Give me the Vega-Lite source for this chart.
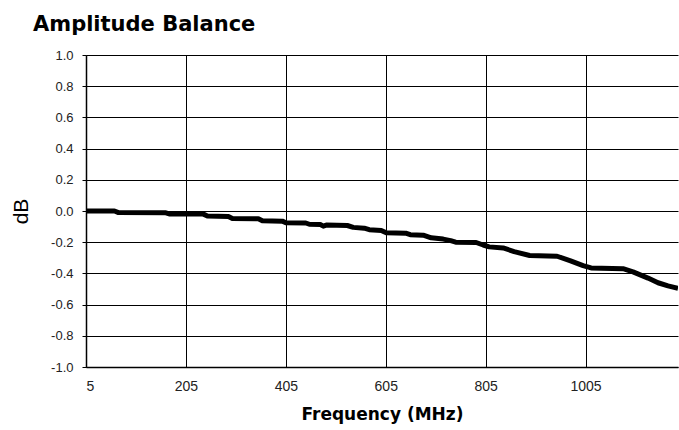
{
  "$schema": "https://vega.github.io/schema/vega-lite/v6.json",
  "width": 592,
  "height": 312,
  "autosize": {"type": "none"},
  "padding": {"left": 86, "top": 55, "right": 1, "bottom": 63},
  "background": "white",
  "title": {
    "text": "Amplitude Balance",
    "anchor": "start",
    "frame": "group",
    "dx": -53,
    "dy": 29,
    "offset": 26,
    "baseline": "alphabetic",
    "font": "DejaVu Sans",
    "fontSize": 21,
    "fontWeight": "bold",
    "color": "#000000"
  },
  "config": {
    "view": {"stroke": null},
    "axis": {
      "labelFont": "Liberation Sans",
      "titleFont": "Liberation Sans",
      "labelColor": "#222222",
      "titleColor": "#000000",
      "gridColor": "#000000",
      "gridOpacity": 1,
      "gridWidth": 1,
      "domainColor": "#000000",
      "domainWidth": 1.5,
      "tickColor": "#000000"
    }
  },
  "data": {
    "values": [
      {"freq": 5, "db": 0.0},
      {"freq": 62, "db": 0.0},
      {"freq": 70, "db": -0.01},
      {"freq": 165, "db": -0.012},
      {"freq": 173, "db": -0.02},
      {"freq": 240, "db": -0.02},
      {"freq": 248, "db": -0.032},
      {"freq": 290, "db": -0.035},
      {"freq": 298, "db": -0.048},
      {"freq": 350, "db": -0.05},
      {"freq": 358, "db": -0.063},
      {"freq": 398, "db": -0.065},
      {"freq": 405, "db": -0.075},
      {"freq": 445, "db": -0.077},
      {"freq": 452, "db": -0.085},
      {"freq": 474, "db": -0.087},
      {"freq": 480, "db": -0.097},
      {"freq": 486, "db": -0.09},
      {"freq": 528, "db": -0.093},
      {"freq": 540, "db": -0.105},
      {"freq": 562, "db": -0.11},
      {"freq": 572, "db": -0.12},
      {"freq": 596, "db": -0.125},
      {"freq": 606, "db": -0.14},
      {"freq": 645, "db": -0.142},
      {"freq": 654, "db": -0.152},
      {"freq": 680, "db": -0.155},
      {"freq": 696, "db": -0.172},
      {"freq": 720, "db": -0.18},
      {"freq": 735, "db": -0.19},
      {"freq": 745, "db": -0.2},
      {"freq": 786, "db": -0.202},
      {"freq": 800, "db": -0.218},
      {"freq": 812, "db": -0.23},
      {"freq": 840, "db": -0.237},
      {"freq": 862, "db": -0.26},
      {"freq": 893, "db": -0.285},
      {"freq": 948, "db": -0.29},
      {"freq": 975, "db": -0.32},
      {"freq": 1000, "db": -0.35},
      {"freq": 1016, "db": -0.365},
      {"freq": 1080, "db": -0.37},
      {"freq": 1100, "db": -0.39},
      {"freq": 1130, "db": -0.43},
      {"freq": 1150, "db": -0.46},
      {"freq": 1170, "db": -0.48},
      {"freq": 1190, "db": -0.495}
    ]
  },
  "mark": {"type": "line", "color": "#000000", "strokeWidth": 5, "strokeJoin": "round", "clip": true},
  "encoding": {
    "x": {
      "field": "freq",
      "type": "quantitative",
      "scale": {"domain": [5, 1190], "nice": false, "zero": false},
      "axis": {
        "title": "Frequency (MHz)",
        "titleFont": "DejaVu Sans",
        "titleFontSize": 17,
        "titleFontWeight": "bold",
        "titlePadding": 13,
        "values": [5, 205, 405, 605, 805, 1005],
        "format": "d",
        "labelFontSize": 14,
        "labelPadding": 12,
        "ticks": false,
        "grid": true
      }
    },
    "y": {
      "field": "db",
      "type": "quantitative",
      "scale": {"domain": [-1, 1], "nice": false, "zero": false},
      "axis": {
        "title": "dB",
        "titleFontSize": 21,
        "titleFontWeight": "normal",
        "titlePadding": 19,
        "values": [-1, -0.8, -0.6, -0.4, -0.2, 0, 0.2, 0.4, 0.6, 0.8, 1],
        "labelExpr": "replace(format(datum.value, '.1f'), '\u2212', '-')",
        "labelFontSize": 13,
        "labelPadding": 9,
        "tickSize": 4,
        "grid": true
      }
    }
  }
}
